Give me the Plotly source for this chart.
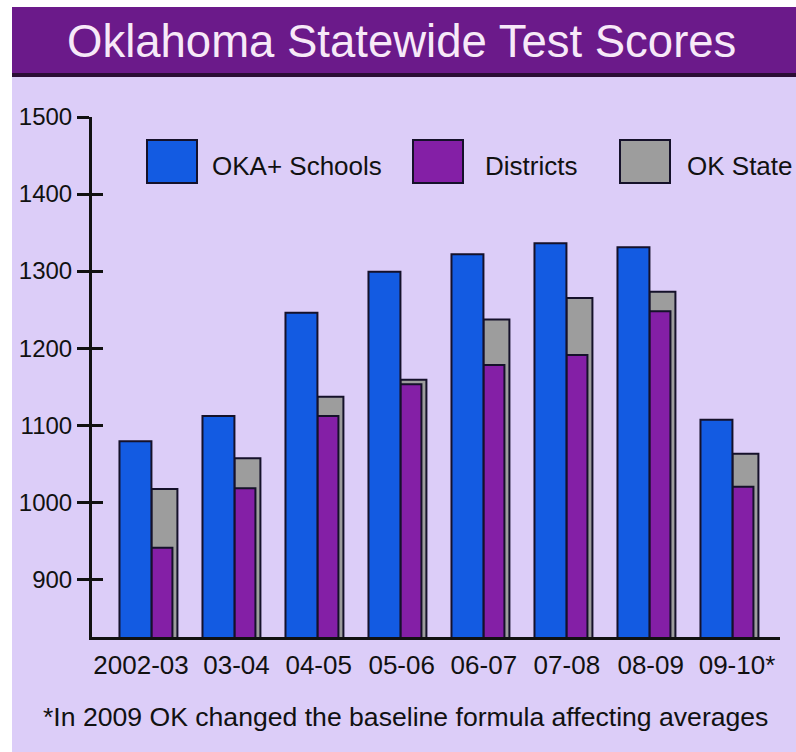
import plotly.graph_objects as go

# ---- data ----
categories = ["2002-03", "03-04", "04-05", "05-06", "06-07", "07-08", "08-09", "09-10*"]
oka_schools = [1079, 1112, 1246, 1299, 1322, 1336, 1331, 1107]
districts = [941, 1018, 1112, 1153, 1178, 1191, 1248, 1020]
ok_state = [1017, 1057, 1137, 1159, 1237, 1265, 1273, 1063]
series_names = ["OKA+ Schools", "Districts", "OK State"]
y_ticks = [900, 1000, 1100, 1200, 1300, 1400, 1500]
y_range = [825, 1500]
title_text = "Oklahoma Statewide Test Scores"
footnote_text = "*In 2009 OK changed the baseline formula affecting averages"

# ---- styling / layout constants ----
W, H = 796, 752
ML, MR, MT, MB = 92, 16, 117, 115
PW = W - ML - MR
PH = H - MT - MB

BLUE = "#135be2"
PURPLE = "#841fa6"
GRAY = "#9d9d9d"
LAV = "#dccdf8"
TITLEBAR = "#6b1a8a"
EDGE = "#15112a"
FONT = "Liberation Sans, Arial, Helvetica, sans-serif"
colors = [BLUE, PURPLE, GRAY]
# small horizontal nudges of the category labels (in category units), as in the original
label_nudge = [-0.12, 0.03, 0.02, 0.02, 0.01, 0.01, 0.02, 0.06]


def px_x(px):
    return (px - ML) / PW


def px_y(py):
    return (H - MB - py) / PH


fig = go.Figure()

# drawing order: gray behind, then purple, then blue
fig.add_trace(go.Bar(x=categories, y=ok_state, name=series_names[2],
                     marker=dict(color=GRAY, line=dict(color=EDGE, width=2)),
                     offset=0.005, width=0.313, showlegend=False))
fig.add_trace(go.Bar(x=categories, y=districts, name=series_names[1],
                     marker=dict(color=PURPLE, line=dict(color=EDGE, width=2)),
                     offset=0.005, width=0.253, showlegend=False))
fig.add_trace(go.Bar(x=categories, y=oka_schools, name=series_names[0],
                     marker=dict(color=BLUE, line=dict(color=EDGE, width=2)),
                     offset=-0.38, width=0.385, showlegend=False))
# empty helper trace so the overlaying axis (right half of the cross ticks) is drawn
fig.add_trace(go.Scatter(x=[], y=[], yaxis="y2", showlegend=False, hoverinfo="skip"))

shapes = [
    # white margins of the original picture
    dict(type="rect", xref="paper", yref="paper", x0=px_x(0), x1=px_x(12), y0=px_y(H), y1=px_y(0),
         fillcolor="white", line=dict(width=0), layer="below"),
    dict(type="rect", xref="paper", yref="paper", x0=px_x(0), x1=px_x(W), y0=px_y(7), y1=px_y(0),
         fillcolor="white", line=dict(width=0), layer="below"),
    # title bar
    dict(type="rect", xref="paper", yref="paper", x0=px_x(12), x1=px_x(W), y0=px_y(73), y1=px_y(7),
         fillcolor=TITLEBAR, line=dict(width=0), layer="below"),
    dict(type="rect", xref="paper", yref="paper", x0=px_x(12), x1=px_x(W), y0=px_y(77), y1=px_y(73),
         fillcolor="#2a0d35", line=dict(width=0), layer="below"),
]

annotations = [
    dict(text=title_text, xref="paper", yref="paper", x=px_x(401), y=px_y(41),
         xanchor="center", yanchor="middle", showarrow=False,
         font=dict(family=FONT, size=45.5, color="#f7e9f8")),
    dict(text=footnote_text, xref="paper", yref="paper", x=px_x(405), y=px_y(717),
         xanchor="center", yanchor="middle", showarrow=False,
         font=dict(family=FONT, size=26.6, color="#111111")),
]

# custom legend with large swatches
swatch_x = [147, 413, 620]
text_x = [210, 483, 685]
for name, col, sx, tx in zip(series_names, colors, swatch_x, text_x):
    shapes.append(dict(type="rect", xref="paper", yref="paper",
                       x0=px_x(sx), x1=px_x(sx + 50), y0=px_y(183), y1=px_y(140),
                       fillcolor=col, line=dict(color=EDGE, width=2), layer="above"))
    annotations.append(dict(text=name, xref="paper", yref="paper", x=px_x(tx), y=px_y(166),
                            xanchor="left", yanchor="middle", showarrow=False,
                            font=dict(family=FONT, size=26, color="#111111")))

fig.update_layout(
    width=W, height=H,
    margin=dict(l=ML, r=MR, t=MT, b=MB, autoexpand=False),
    paper_bgcolor=LAV, plot_bgcolor=LAV,
    barmode="overlay",
    font=dict(family=FONT, color="#111111"),
    showlegend=False,
    shapes=shapes,
    annotations=annotations,
    xaxis=dict(type="category", range=[-0.711, 7.578], showline=True, linewidth=3,
               linecolor="#111111", ticks="", showgrid=False, zeroline=False,
               tickmode="array",
               tickvals=[i + n for i, n in enumerate(label_nudge)],
               ticktext=categories,
               tickfont=dict(size=26, color="#111111"), ticklabelstandoff=3),
    yaxis=dict(range=y_range, tickvals=y_ticks, ticks="outside", ticklen=12, tickwidth=3,
               tickcolor="#111111", showline=True, linewidth=3, linecolor="#111111",
               showgrid=False, zeroline=False, tickfont=dict(size=24, color="#111111")),
    yaxis2=dict(overlaying="y", side="left", range=y_range, tickvals=y_ticks, ticks="inside",
                ticklen=11, tickwidth=3, tickcolor="#111111", showticklabels=False,
                showline=False, showgrid=False, zeroline=False),
)

fig.write_html(
    "out.html",
    config={"displayModeBar": False},
    post_script="document.body.style.margin='0';document.body.style.overflow='hidden';",
)
